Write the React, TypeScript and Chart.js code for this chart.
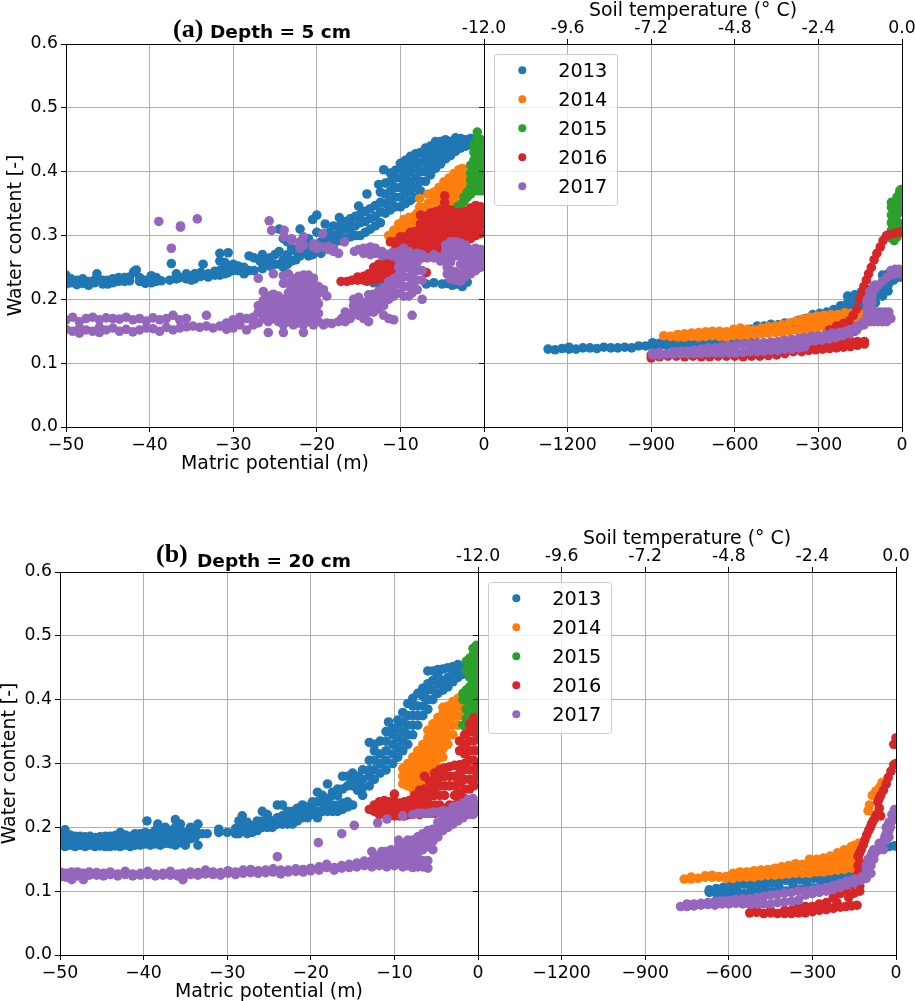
import React, { useEffect, useRef } from "react";
import Chart from "chart.js/auto";

type Column = number[];

const years = ["2013", "2014", "2015", "2016", "2017"];
const colors = ["#1f77b4", "#ff7f0e", "#2ca02c", "#d62728", "#9467bd"];
const yTicks = [0, 0.1, 0.2, 0.3, 0.4, 0.5, 0.6];
const leftXTicks = [-50, -40, -30, -20, -10, 0];
const rightXTicks = [-1200, -900, -600, -300, 0];
const topTicks = [-12, -9.6, -7.2, -4.8, -2.4, 0];

// Every column: x first, then the water contents read at that x.
const a13L: Column[] = [[-50,.224,.232,.238],[-49.4,.226,.232],[-48.7,.223,.23],[-48,.225,.232],[-47.3,.222,.228],[-46.6,.226,.23],[-46.3,.24],[-45.6,.224,.23],[-45,.23,.224],[-44.4,.232,.226],[-43.7,.228,.234],[-43,.234,.228],[-42.4,.229,.235],[-41.9,.243],[-41.6,.246],[-41.2,.228,.234],[-40.5,.23,.225],[-39.8,.232,.226,.237],[-39.2,.234,.228],[-38.6,.229],[-37.6,.23],[-37.4,.256],[-36.8,.24,.232],[-36.4,.234],[-35.6,.232,.24],[-35,.23,.236],[-34.6,.24,.232],[-33.9,.236,.242],[-33.6,.255],[-33,.24,.235],[-32.2,.238,.244],[-31.6,.238,.245,.26,.272],[-31,.24,.25,.258],[-30.6,.242,.252,.273],[-30,.255,.245],[-29.4,.245,.252],[-28.7,.25,.24],[-28.1,.268,.245],[-27.5,.265,.245],[-26.8,.26],[-26.5,.27,.248],[-26,.258],[-25.6,.265,.252],[-25,.27,.255],[-24.5,.31,.275,.255],[-24,.295,.25,.262],[-23.5,.27,.255,.29],[-23,.26,.28],[-22.5,.275,.262],[-22,.31,.285,.268],[-21.5,.275,.285],[-21,.295,.268,.28],[-20.5,.325,.27,.285],[-20,.332,.305,.278,.285],[-19.5,.29,.272],[-19,.318,.3,.28],[-18.5,.305,.288,.295],[-18,.285,.3,.315],[-17.3,.292,.305,.328,.315],[-16.6,.295,.31,.322],[-16,.298,.312,.326],[-15.4,.3,.315,.33],[-15,.346],[-14.8,.3,.32,.333],[-14.2,.305,.322,.338],[-14,.365,.228],[-13.6,.31,.327,.342],[-13.2,.226],[-13,.315,.33,.347],[-12.6,.38],[-12.4,.32,.337,.352,.368,.224],[-12,.403],[-11.8,.335,.35,.365,.382],[-11.6,.226],[-11.2,.34,.355,.37,.385,.398],[-10.6,.345,.36,.375,.39,.402],[-10,.345,.36,.375,.39,.405,.413],[-9.4,.35,.365,.38,.395,.41,.418],[-8.8,.355,.37,.385,.4,.412,.424],[-8.2,.36,.375,.39,.405,.418,.428],[-7.6,.37,.385,.4,.415,.43],[-7,.385,.4,.413,.425,.437],[-6.9,.224],[-6.4,.395,.408,.42,.432,.44],[-6,.226],[-5.8,.405,.418,.43,.44,.447],[-5.2,.412,.425,.437,.447],[-5,.224],[-4.6,.42,.432,.445,.45],[-4.4,.225],[-4,.425,.437,.447],[-3.8,.222],[-3.4,.432,.442,.453],[-3.2,.224],[-2.8,.437,.447,.452],[-2.6,.22,.226],[-2.2,.44,.45],[-2,.227],[-1.6,.442,.452],[-1,.445,.452],[-.4,.445,.45]];
const a14L: Column[] = [[-11.4,.3],[-10.8,.295,.308],[-10.2,.29,.305,.318],[-9.6,.295,.31,.325],[-9,.3,.315,.328],[-8.4,.305,.32,.33],[-8,.335],[-7.7,.31,.322,.345,.358],[-7.2,.315,.33,.343],[-6.7,.32,.335,.35,.365],[-6,.325,.34,.355,.368],[-5.4,.33,.345,.36,.375],[-4.8,.34,.355,.368,.384],[-4.2,.35,.362,.375,.39],[-3.6,.355,.37,.383,.397],[-3,.36,.375,.39,.403],[-2.6,.37,.383,.397,.405],[-1.8,.375,.39]];
const a15L: Column[] = [[-3.2,.345],[-2.8,.348],[-2.4,.353,.36],[-2,.36,.368],[-1.6,.365,.375,.387,.398,.41],[-1.2,.37,.382,.394,.406,.418,.43,.442],[-.8,.37,.382,.394,.406,.418,.43,.442,.454,.462],[-.4,.37,.382,.394,.406,.418,.43,.442,.45],[0,.37,.382,.394,.406,.418,.43,.44]];
const a16L: Column[] = [[-17.1,.228],[-16.4,.228],[-15.8,.23],[-15.1,.23,.235],[-14.4,.23,.236],[-13.8,.23,.24],[-13.2,.23,.242,.25],[-12.6,.232,.245,.255],[-12,.235,.247,.258],[-11.4,.235,.248,.26],[-10.8,.24,.252,.262],[-10.2,.24,.25,.258],[-6.9,.242],[-11.2,.29],[-10.6,.278,.29],[-10,.275,.287,.298],[-9.4,.275,.287,.298],[-8.8,.273,.285,.297,.305],[-8.2,.27,.282,.294,.306],[-7.6,.27,.282,.294,.306,.318,.332],[-7,.27,.282,.294,.306,.318,.33],[-6.4,.275,.287,.299,.311,.323,.335],[-5.8,.278,.29,.302,.314,.326,.337],[-5.2,.28,.292,.304,.316,.328,.34],[-4.7,.352,.362],[-4.6,.283,.295,.307,.319,.331,.342],[-4,.285,.297,.309,.321,.333,.34],[-3.4,.287,.299,.311,.323,.335],[-2.8,.288,.3,.312,.324,.336],[-2.2,.29,.302,.314,.326,.338],[-1.6,.295,.307,.319,.331,.343],[-1,.3,.312,.324,.336,.347],[-.4,.303,.315,.327,.339,.345]];
const a17L: Column[] = [[-50,.168,.153],[-49.2,.172,.15],[-48.4,.165,.155,.147],[-47.6,.17,.152],[-46.8,.172,.15],[-46,.168,.148,.156],[-45.2,.171,.152],[-44.4,.17,.155],[-43.6,.169,.15],[-42.8,.172,.153],[-42,.168,.149],[-41.2,.17,.152],[-40.4,.166,.155],[-39.6,.171,.154],[-38.9,.322],[-38.8,.168,.15],[-38,.17,.156],[-37.4,.28],[-37.2,.175,.152],[-36.4,.168,.155],[-36.3,.315,.313],[-35.6,.17,.157],[-34.8,.158],[-34.3,.326],[-34,.156],[-33.2,.175,.158],[-32.4,.155],[-31.6,.158],[-30.8,.163,.153],[-30,.168,.155],[-29.2,.16,.172],[-28.4,.17,.152],[-27.6,.172,.16],[-27,.18,.19,.163,.233],[-26.4,.17,.185,.198,.212],[-25.8,.165,.178,.19,.205,.148],[-25.7,.323],[-25.5,.172,.185,.195],[-25.4,.308],[-25.2,.17,.185,.2,.208,.24],[-24.6,.165,.178,.192,.205],[-24.3,.17,.185],[-24,.16,.175,.19,.2,.237,.225,.148],[-23.9,.308,.298],[-23.7,.17,.185,.2],[-23.4,.165,.18,.195,.21,.24,.225],[-23.1,.17,.185,.2,.215],[-23,.292,.295],[-22.8,.16,.175,.19,.205,.22,.232],[-22.5,.17,.185,.2,.215,.228],[-22.2,.163,.178,.192,.207,.22,.236],[-22,.28,.29],[-21.9,.17,.185,.2,.215,.228],[-21.6,.16,.175,.19,.205,.22,.238,.148,.298,.285],[-21.3,.17,.187,.2,.215,.23],[-21,.165,.18,.195,.21,.225,.238],[-20.7,.17,.187,.202,.218,.23],[-20.4,.16,.175,.195,.21,.225,.233,.282,.287],[-20.1,.17,.187,.202,.215],[-20,.28,.285],[-19.8,.165,.178,.193,.21,.22],[-19.3,.303,.282],[-19.2,.16,.215],[-18.8,.163,.205],[-18.6,.283,.278],[-18.2,.162],[-18,.28,.275],[-17.4,.165,.272],[-17,.17],[-16.7,.29],[-16.6,.165,.18],[-16.3,.172],[-16,.17,.178],[-15.6,.19,.2],[-15.5,.275],[-15.3,.18],[-15,.175,.19,.203,.278],[-14.7,.18],[-14.4,.17,.185,.195,.28,.272],[-13.8,.165,.18,.195,.207],[-13.6,.282,.27],[-13.5,.185,.192],[-13.2,.18,.195,.208],[-13,.28,.272],[-12.9,.19,.2],[-12.6,.185,.2,.213],[-12.3,.195,.2],[-12.2,.275,.268],[-12,.175,.19,.205,.218],[-11.7,.205,.21],[-11.6,.27],[-11.4,.17,.2,.215,.228],[-11.1,.21,.22],[-11,.268,.273],[-10.8,.168,.205,.22,.232],[-10.2,.21,.225,.238,.25,.262,.275],[-9.6,.205,.22,.235,.248,.26,.272,.28],[-9,.205,.22,.235,.25,.263,.275],[-8.6,.175,.21,.225,.24,.255,.27],[-8,.215,.23,.245,.258,.272],[-7.4,.2,.23,.245,.265,.27],[-6.8,.265],[-6,.27,.265],[-5.2,.265,.26],[-4.6,.262,.275,.285],[-4.4,.24,.25],[-4,.232,.245,.258,.27,.283,.29],[-3.4,.23,.243,.268,.282,.29],[-2.8,.228,.24,.255,.268,.28,.288],[-2.2,.236,.25,.263,.276,.285],[-1.6,.24,.253,.266,.278],[-1,.245,.258,.27,.28],[-.4,.25,.262,.272,.278]];

const a13R: Column[] = [[-1270,.122],[-1245,.121],[-1220,.123],[-1195,.122,.125],[-1170,.122],[-1145,.124],[-1120,.124],[-1095,.123],[-1070,.125],[-1045,.124],[-1020,.124],[-995,.125],[-970,.124],[-945,.127],[-920,.127],[-895,.127,.132],[-870,.128,.131],[-845,.128,.131],[-820,.13],[-795,.13],[-770,.13],[-745,.131],[-720,.131],[-695,.132],[-670,.132],[-645,.133],[-620,.133],[-595,.134],[-570,.134,.15],[-545,.14,.153],[-520,.145,.158],[-495,.148,.158],[-470,.15,.161],[-445,.15,.16],[-420,.152,.163],[-395,.155,.163],[-370,.158,.167],[-345,.16,.17],[-320,.162,.176],[-295,.165,.178],[-270,.165,.18],[-245,.17,.184],[-220,.17,.19,.18],[-195,.145,.175,.185,.195,.205],[-170,.15,.175,.185,.195,.207],[-145,.16,.175,.19,.205,.212],[-120,.18,.19,.2,.215],[-95,.195,.205,.215,.222],[-70,.205,.218,.228,.238],[-50,.213,.222,.232,.24],[-30,.23,.238],[-25,.235],[-10,.235],[0,.235,.24]];
const a14R: Column[] = [[-855,.143],[-830,.142],[-805,.141,.145],[-780,.141,.146],[-755,.142,.147],[-730,.141,.148],[-705,.142,.149],[-680,.143,.15],[-655,.142,.15],[-630,.141,.149],[-605,.143,.153],[-580,.143,.155],[-555,.144,.153],[-530,.145,.152],[-505,.146,.155],[-480,.147,.157],[-455,.148,.158],[-430,.148,.16],[-405,.15,.163],[-380,.152,.166],[-355,.152,.158,.163,.169],[-330,.153,.162,.172],[-305,.155,.165,.174],[-280,.158,.168,.175],[-255,.16,.17,.176],[-230,.162,.166,.172,.176],[-205,.165,.175,.179],[-180,.168,.178],[-155,.17,.178],[-130,.174,.178],[-115,.176],[-10,.305],[0,.31]];
const a15R: Column[] = [[-38,.296,.308,.32,.332,.344,.352],[-33,.3,.315,.33,.345],[-28,.292,.3,.312,.324,.336,.348],[-23,.3,.315,.33,.345],[-18,.298,.31,.322,.334,.346,.36],[-13,.32,.335,.35,.362],[-8,.345,.355,.365,.37],[-3,.35,.362,.372],[0,.345,.357,.368]];
const a16R: Column[] = [[-900,.108,.113],[-870,.11],[-840,.111],[-810,.111],[-780,.11],[-750,.111],[-720,.11],[-690,.11],[-660,.111],[-630,.111],[-600,.111],[-570,.11],[-540,.111],[-510,.111],[-480,.112],[-450,.113],[-420,.115],[-390,.118],[-360,.118,.125],[-335,.12,.128],[-310,.121,.13],[-285,.122,.13],[-260,.123,.132,.152],[-235,.124,.132,.158],[-210,.125,.133,.162],[-190,.166],[-185,.126,.134],[-175,.175],[-163,.185],[-160,.128,.134],[-152,.2],[-145,.21],[-137,.22],[-135,.13,.134],[-128,.23],[-120,.24],[-110,.25],[-100,.262],[-90,.272],[-78,.282],[-68,.292],[-55,.3],[-40,.302],[-25,.304],[-10,.305],[0,.306]];
const a17R: Column[] = [[-895,.113,.116],[-870,.113,.117],[-845,.114],[-820,.114,.118],[-795,.115,.119],[-770,.115,.119],[-745,.115,.12],[-720,.115,.122],[-695,.116,.124],[-670,.116,.124],[-645,.116,.126],[-620,.116,.127],[-595,.116,.128],[-570,.117,.129],[-545,.118,.13],[-520,.118,.124,.131],[-495,.119,.125,.132],[-470,.12,.126,.133],[-445,.12,.128,.134],[-420,.122,.13,.136],[-395,.122,.13,.137],[-370,.124,.132,.139],[-350,.125,.14],[-337,.133,.138],[-325,.142],[-312,.135,.14],[-300,.143],[-287,.136,.141],[-275,.145],[-262,.138,.143],[-250,.147],[-237,.14,.146],[-225,.148],[-212,.143,.148],[-200,.15],[-187,.146,.152],[-175,.153],[-162,.152,.158],[-150,.16],[-137,.16,.165],[-125,.165,.175,.185,.195,.2],[-118,.185,.195],[-115,.165,.175,.205,.212],[-110,.17,.18],[-108,.185,.195,.205],[-100,.165,.175,.215,.222],[-92,.17,.18],[-85,.165,.175,.222],[-78,.17,.18],[-70,.165,.175,.228],[-62,.17,.18],[-55,.165,.175,.234],[-47,.17,.18],[-40,.17,.238,.245],[-25,.24,.247],[-10,.24,.247],[0,.24,.245]];

const b13L: Column[] = [[-50,.172,.18,.188],[-49.4,.17,.178,.186,.196],[-48.8,.172,.18,.188],[-48.2,.17,.178,.186],[-47.6,.172,.18,.186],[-47,.17,.178,.185],[-46.4,.172,.18,.186],[-45.8,.17,.178,.184],[-45.2,.171,.179,.185],[-44.6,.17,.178,.186],[-44,.17,.178,.186],[-43.4,.171,.179,.187],[-42.8,.17,.178,.186,.192],[-42.2,.172,.18,.188],[-41.6,.17,.178,.186],[-41,.172,.18,.19],[-40.4,.172,.18,.19],[-39.8,.174,.182,.192],[-39.6,.21],[-39.2,.172,.18,.19],[-38.6,.174,.184,.195],[-38.3,.205],[-38,.172,.182,.192],[-37.4,.175,.185,.2],[-36.8,.174,.184,.195],[-36.2,.172,.182,.19,.2,.212],[-35.6,.176,.186,.195,.205],[-35,.172,.18,.192],[-34.4,.182,.19,.2],[-33.8,.185,.195],[-33.5,.205,.172],[-33,.19],[-32.4,.19],[-31,.192,.197],[-30,.192],[-29,.19,.198],[-28.6,.21,.19],[-28.2,.2,.218],[-27.6,.19,.2,.208],[-27,.192,.202],[-26.4,.195,.205,.21],[-25.8,.2,.21,.225],[-25.2,.2,.21,.22],[-24.6,.2,.21],[-24,.205,.215,.235],[-23.4,.205,.218,.235],[-22.8,.205,.215,.225],[-22.2,.205,.215,.225],[-21.6,.21,.22,.23],[-21,.215,.225,.235],[-20.4,.215,.225,.232],[-19.8,.22,.23,.24],[-19.2,.215,.225,.24,.255],[-18.6,.225,.238,.25],[-18,.225,.235,.245,.268],[-17.4,.225,.235,.25,.255],[-16.8,.225,.235,.25,.26],[-16.2,.228,.238,.26,.28],[-15.6,.232,.24,.265,.28],[-15,.235,.265,.275,.285],[-14.4,.258,.27,.28],[-13.8,.25,.262,.275,.29],[-13,.265,.28,.29,.305,.333],[-12.4,.275,.29,.305,.32,.33],[-11.7,.285,.3,.315,.335],[-11,.29,.305,.32,.335,.35],[-10.7,.365],[-10.2,.3,.315,.33,.345,.355],[-9.6,.31,.325,.34,.355,.368],[-9,.32,.335,.35,.365,.38],[-8.4,.33,.345,.36,.375,.394],[-7.8,.345,.36,.375,.39,.402],[-7.2,.36,.375,.39,.41],[-6.6,.375,.39,.405,.418],[-6,.385,.4,.415,.425,.445],[-5.4,.4,.415,.43,.445],[-4.8,.41,.425,.44,.447],[-4.2,.415,.43,.448],[-3.6,.42,.435,.45],[-3,.428,.44,.452],[-2.4,.435,.447,.455],[-1.8,.44,.452]];
const b14L: Column[] = [[-9,.268,.28,.292],[-8.4,.265,.278,.29,.3],[-7.8,.26,.272,.285,.298,.31],[-7.2,.258,.27,.283,.296,.31,.32],[-6.6,.265,.278,.29,.303,.316,.33],[-6,.275,.288,.3,.313,.326,.34,.352],[-5.4,.285,.298,.31,.323,.336,.35,.362],[-4.8,.295,.308,.322,.335,.348,.36,.372],[-4.2,.31,.323,.336,.35,.365,.378,.388],[-3.6,.33,.344,.358,.372,.385,.39],[-3,.345,.36,.374,.387,.397],[-2.4,.36,.374,.388,.402],[-1.8,.375,.388]];
const b15L: Column[] = [[-1.8,.36,.4,.41],[-1.4,.355,.37,.385,.4,.415,.445,.46],[-1,.36,.375,.39,.405,.42,.435,.45,.465],[-.6,.365,.38,.395,.41,.425,.44,.455,.47,.48],[-.2,.37,.385,.4,.415,.43,.445,.46,.475,.485]];
const b16L: Column[] = [[-13,.228],[-12.4,.225,.235],[-11.8,.22,.232,.24],[-11.2,.222,.235,.242],[-10.6,.218,.23,.24],[-10,.218,.23,.24,.252],[-9.4,.218,.23,.238],[-8.8,.218,.228,.24],[-8.2,.22,.232,.242],[-7.6,.222,.235,.245,.25],[-7,.22,.232,.245,.258],[-6.4,.222,.235,.248,.26,.28],[-5.8,.222,.235,.248,.26,.272],[-5.2,.222,.235,.25,.262,.275,.285],[-4.6,.225,.235,.25,.265,.278,.29],[-4,.23,.25,.265,.28,.293],[-3.4,.235,.265,.28,.295],[-2.8,.235,.25,.265,.28,.297],[-2.2,.24,.255,.27,.285,.298,.32,.335],[-1.6,.245,.26,.275,.29,.3,.315,.33,.345],[-1,.26,.275,.29,.305,.32,.335,.35,.362],[-.5,.265,.275,.29,.305,.32,.335,.35,.365,.372],[-.1,.28,.3,.32,.34,.36]];
const b17L: Column[] = [[-50,.122,.13],[-49.3,.122,.128],[-48.6,.118,.126,.13],[-47.9,.124,.13],[-47.2,.118,.128],[-46.5,.125,.13],[-45.6,.125,.129],[-44.8,.124,.128],[-44,.126,.13],[-43.1,.124,.127],[-42.2,.126,.131],[-41.3,.124,.127],[-40.4,.125,.128],[-39.5,.126,.131],[-38.6,.124,.127],[-37.7,.125,.128],[-36.8,.125,.128,.131],[-35.9,.124,.127],[-35.3,.118,.128],[-34.4,.126,.13],[-33.5,.125,.129],[-32.6,.127,.133],[-31.7,.126,.13],[-30.8,.125,.129],[-29.9,.128,.132],[-29,.126,.13],[-28.1,.128,.133],[-27.2,.129,.134],[-26.3,.128,.132],[-25.4,.129,.133],[-24.5,.13,.135],[-24,.154],[-23.6,.127,.133],[-22.7,.13,.133],[-21.8,.131,.135],[-20.9,.13,.134],[-20,.132,.136],[-19.1,.176],[-19,.133,.138],[-18.1,.137,.142],[-17.2,.133,.137],[-16.3,.136,.14,.19],[-15.4,.137,.142],[-14.8,.203],[-14.5,.138,.144],[-13.6,.14,.147],[-12.7,.138,.148,.162],[-12.1,.145,.155],[-12,.207],[-11.8,.14,.15],[-11.5,.162],[-11.2,.145,.155,.162],[-10.9,.138,.15,.16,.213],[-10.4,.145,.155,.165],[-10,.14,.15,.16],[-9.5,.18,.17],[-9.3,.145,.155,.165,.175],[-9,.138,.15,.16,.17,.218],[-8.7,.145,.155,.165,.175],[-8.4,.14,.15,.16,.17,.18],[-7.8,.137,.15,.16,.17,.18,.22],[-7.2,.138,.15,.16,.17,.185,.222],[-6.6,.138,.148,.165,.178,.19,.222],[-6,.136,.148,.17,.182,.195,.222],[-5.4,.165,.178,.19,.197,.224],[-4.8,.185,.197,.208,.224],[-4.2,.195,.205,.215,.226],[-3.6,.2,.212,.225],[-3,.205,.217,.232],[-2.4,.21,.222,.234],[-1.8,.215,.227,.238],[-1.2,.22,.232,.243],[-.6,.22,.232,.245],[-.2,.225,.235]];

const b13R: Column[] = [[-670,.098,.1,.102],[-645,.097,.104],[-620,.096,.1,.106],[-595,.096,.108],[-570,.096,.102,.109],[-545,.096,.111],[-520,.097,.104,.11],[-495,.098,.112],[-470,.098,.105,.112],[-445,.099,.113],[-420,.1,.107,.115],[-395,.1,.117],[-370,.102,.11,.118],[-345,.103,.118],[-320,.104,.112,.12],[-295,.105,.12],[-270,.107,.115,.122],[-245,.11,.122],[-220,.112,.118,.124],[-195,.114,.124],[-170,.117,.127],[-145,.12,.128],[-120,.125,.13],[-85,.16],[-65,.165],[-45,.167],[-25,.17],[-5,.171]];
const b14R: Column[] = [[-760,.119],[-735,.119,.122],[-710,.12],[-685,.122,.124],[-660,.122,.125],[-635,.122,.123],[-610,.12,.123],[-585,.12,.128],[-560,.122,.126,.13],[-535,.122,.13],[-510,.122,.127,.132],[-485,.124,.133],[-460,.125,.13,.134],[-435,.125,.136],[-410,.126,.132,.138],[-385,.127,.14],[-360,.128,.136,.143],[-335,.128,.142],[-310,.128,.134,.146,.14,.15],[-285,.13,.15,.14],[-260,.13,.136,.152,.142,.148],[-235,.132,.155,.143],[-210,.133,.14,.16,.147,.153],[-185,.134,.14,.165,.15,.158],[-160,.136,.143,.17,.155,.162],[-148,.172],[-135,.15,.175,.16,.168],[-100,.226],[-95,.235],[-85,.25],[-72,.257],[-58,.263],[-50,.27]];
const b15R: Column[] = [];
const b16R: Column[] = [[-525,.066],[-500,.067,.07],[-475,.065],[-450,.066,.07],[-425,.065],[-400,.065,.07],[-375,.065,.07],[-360,.07],[-350,.066,.074],[-325,.066,.076],[-312,.072],[-300,.068,.076],[-275,.07,.08],[-262,.076],[-250,.071,.082],[-225,.073,.09],[-212,.082],[-200,.075,.096],[-180,.076,.102],[-170,.09],[-160,.077,.11],[-150,.097],[-140,.078,.116],[-136,.128,.14,.155],[-130,.1,.108,.145,.16],[-125,.165],[-118,.172],[-112,.18],[-105,.188],[-98,.195],[-92,.2],[-88,.205],[-82,.21],[-75,.215],[-70,.22],[-65,.24],[-60,.23,.245],[-55,.218,.25],[-45,.258],[-35,.268],[-28,.278],[-18,.288],[-8,.298],[0,.3],[-8,.33],[0,.34,.33]];
const b17R: Column[] = [[-773,.076],[-750,.076,.08],[-725,.077,.08],[-700,.078,.081],[-675,.079,.082],[-650,.078,.084],[-625,.08,.085],[-600,.08,.085],[-575,.081,.087],[-550,.08,.088],[-525,.08,.088],[-500,.08,.09],[-475,.08,.092],[-450,.08,.094],[-425,.082,.095],[-400,.083,.097],[-375,.084,.098],[-350,.086,.1],[-325,.094,.1],[-300,.096,.102],[-275,.098,.104],[-250,.1,.106],[-225,.103,.109],[-200,.106,.112],[-175,.11,.116],[-150,.113,.119],[-125,.117,.122],[-107,.12,.13,.14],[-100,.126,.138,.15],[-90,.128,.14,.155],[-80,.15,.165],[-75,.16],[-60,.165,.17,.175],[-45,.165,.178],[-40,.185],[-35,.18,.19,.2],[-25,.185,.195,.208],[-20,.2],[-15,.21,.22],[-10,.215],[-5,.215,.228]];

const pts = (cols: Column[]) => cols.flatMap(([x, ...ys]) => ys.map((y) => ({ x, y })));

const tickFont = { family: '"DejaVu Sans"', size: 17.3 };
const titleFont = { family: '"DejaVu Sans"', size: 18.9 };
const GRID = "#b0b0b0";

const framePlugin = {
  id: "frame",
  afterDatasetsDraw(chart: any) {
    const { ctx, chartArea: a } = chart;
    ctx.save();
    ctx.strokeStyle = "#000";
    ctx.lineWidth = 1;
    ctx.strokeRect(Math.round(a.left) + 0.5, Math.round(a.top) + 0.5, Math.round(a.right - a.left), Math.round(a.bottom - a.top));
    ctx.restore();
  },
};

const legendPlugin = {
  id: "boxLegend",
  afterDraw(chart: any) {
    const { ctx, chartArea: a } = chart;
    const x = a.left + 10.5;
    const y = a.top + 10.5;
    ctx.save();
    ctx.beginPath();
    ctx.roundRect(x, y, 123, 151, 3);
    ctx.fillStyle = "rgba(255,255,255,0.8)";
    ctx.fill();
    ctx.strokeStyle = "#cccccc";
    ctx.lineWidth = 1;
    ctx.stroke();
    ctx.font = '19.3px "DejaVu Sans"';
    ctx.textBaseline = "alphabetic";
    chart.data.datasets.forEach((d: any, i: number) => {
      const cy = a.top + 26.3 + i * 29;
      ctx.beginPath();
      ctx.arc(a.left + 38.3, cy, 4, 0, Math.PI * 2);
      ctx.fillStyle = d.backgroundColor;
      ctx.fill();
      ctx.fillStyle = "#000";
      ctx.fillText(d.label, a.left + 74.3, cy + 7);
    });
    ctx.restore();
  },
};

const titlePlugin = (tag: string, text: string, tagX: number, textX: number, tagY: number, textY: number) => ({
  id: "mixedTitle",
  afterDraw(chart: any) {
    const { ctx } = chart;
    ctx.save();
    ctx.fillStyle = "#000";
    ctx.textBaseline = "alphabetic";
    ctx.font = 'bold 26px "Liberation Serif"';
    ctx.fillText(tag, tagX, tagY);
    ctx.font = 'bold 18.5px "DejaVu Sans"';
    ctx.fillText(text, textX, textY);
    ctx.restore();
  },
});

const setTicks = (values: number[]) => (axis: any) => {
  axis.ticks = values.map((value) => ({ value }));
};
const minusLabel = (v: any) => String(v).replace("-", "\u2212");

function makeDatasets(series: Column[][]) {
  return years.map((label, i) => ({
    label,
    data: pts(series[i]),
    backgroundColor: colors[i],
    borderWidth: 0,
    pointRadius: 4.8,
    pointHoverRadius: 4.8,
    clip: 0,
    order: 5 - i,
  }));
}

const CANVAS_H = 475;

function baseOptions(): any {
  return {
    responsive: false,
    animation: false,
    events: [],
    devicePixelRatio: 1,
    plugins: { legend: { display: false }, tooltip: { enabled: false }, title: { display: false } },
  };
}

function yAxis(width: number, labelled: boolean): any {
  return {
    min: 0,
    max: 0.6,
    afterBuildTicks: setTicks(yTicks),
    afterFit: (s: any) => { s.width = width; },
    border: { display: false },
    grid: { color: GRID, lineWidth: 1, tickColor: "#000", tickLength: 5 },
    ticks: { display: labelled, autoSkip: false, font: tickFont, color: "#000", padding: 3, callback: (v: any) => Number(v).toFixed(1) },
    title: { display: labelled, text: "Water content [-]", font: titleFont, color: "#000", padding: { top: 5, bottom: 0 } },
  };
}

function xAxis(min: number, max: number, values: number[], title?: string): any {
  return {
    type: "linear",
    position: "bottom",
    min,
    max,
    afterBuildTicks: setTicks(values),
    afterFit: (s: any) => { s.height = 48; },
    border: { display: false },
    grid: { color: GRID, lineWidth: 1, tickColor: "#000", tickLength: 5 },
    ticks: { autoSkip: false, maxRotation: 0, font: tickFont, color: "#000", padding: 3, callback: minusLabel },
    title: { display: !!title, text: title, font: titleFont, color: "#000", padding: { top: 0, bottom: 0 } },
  };
}

function LeftChart(props: { top: number; left: number; series: Column[][]; tag: string; text: string; tagX: number; textX: number; tagY: number; textY: number }) {
  const ref = useRef<HTMLCanvasElement>(null);
  useEffect(() => {
    const chart = new Chart(ref.current as any, {
      type: "scatter",
      data: { datasets: makeDatasets(props.series) as any },
      options: {
        ...baseOptions(),
        layout: { autoPadding: false, padding: { top: 44, right: 16, left: 0, bottom: 0 } },
        scales: { x: xAxis(-50, 0, leftXTicks, "Matric potential (m)"), y: yAxis(66, true) },
      },
      plugins: [framePlugin, titlePlugin(props.tag, props.text, props.tagX, props.textX, props.tagY, props.textY)],
    } as any);
    return () => chart.destroy();
  }, []);
  return <canvas ref={ref} width={500} height={CANVAS_H} style={{ position: "absolute", left: props.left, top: props.top, width: 500, height: CANVAS_H }} />;
}

function RightChart(props: { top: number; left: number; series: Column[][] }) {
  const ref = useRef<HTMLCanvasElement>(null);
  useEffect(() => {
    const chart = new Chart(ref.current as any, {
      type: "scatter",
      data: { datasets: makeDatasets(props.series) as any },
      options: {
        ...baseOptions(),
        layout: { autoPadding: false, padding: { top: 0, right: 38, left: 0, bottom: 0 } },
        scales: {
          x: xAxis(-1500, 0, rightXTicks),
          x2: {
            type: "linear",
            position: "top",
            min: -12,
            max: 0,
            afterBuildTicks: setTicks(topTicks),
            afterFit: (s: any) => { s.height = 44; },
            border: { display: false },
            grid: { drawOnChartArea: false, tickColor: "#000", tickLength: 5 },
            ticks: { autoSkip: false, maxRotation: 0, font: tickFont, color: "#000", padding: 0, callback: (v: any) => Number(v).toFixed(1) },
            title: { display: true, text: "Soil temperature (\u00b0 C)", font: titleFont, color: "#000", padding: { top: 0, bottom: 0 } },
          },
          y: yAxis(44, false),
        },
      },
      plugins: [framePlugin, legendPlugin],
    } as any);
    return () => chart.destroy();
  }, []);
  return <canvas ref={ref} width={500} height={CANVAS_H} style={{ position: "absolute", left: props.left, top: props.top, width: 500, height: CANVAS_H }} />;
}

export default function App() {
  return (
    <div style={{ position: "absolute", left: 0, top: 0, width: 915, height: 1001, overflow: "hidden", background: "#fff" }}>
      <LeftChart top={0} left={0} series={[a13L, a14L, a15L, a16L, a17L]} tag="(a)" text="Depth = 5 cm" tagX={173} textX={210} tagY={37} textY={38} />
      <RightChart top={0} left={440} series={[a13R, a14R, a15R, a16R, a17R]} />
      <LeftChart top={528} left={-6} series={[b13L, b14L, b15L, b16L, b17L]} tag="(b)" text="Depth = 20 cm" tagX={162} textX={203} tagY={34} textY={39} />
      <RightChart top={528} left={434} series={[b13R, b14R, b15R, b16R, b17R]} />
    </div>
  );
}
